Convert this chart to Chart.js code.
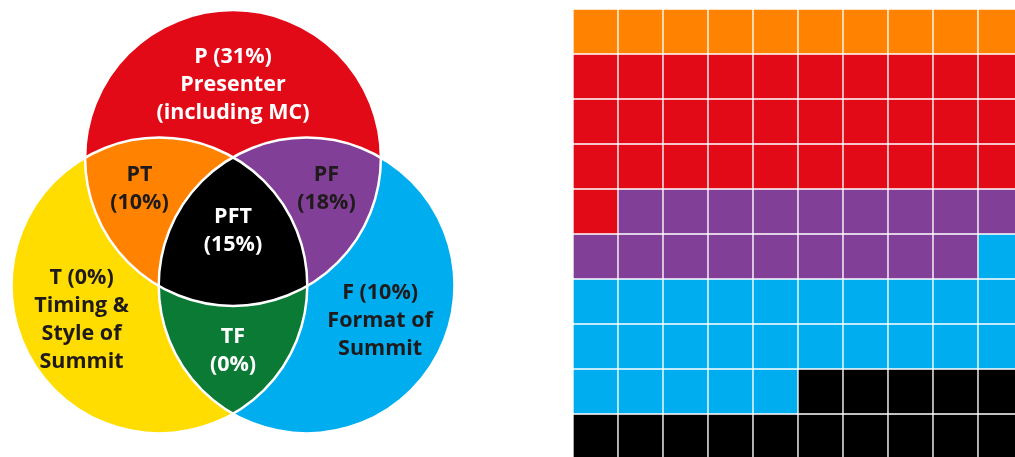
<!DOCTYPE html>
<html>
<head>
<meta charset="utf-8">
<script src="https://cdn.jsdelivr.net/npm/chart.js@4/dist/chart.umd.min.js"></script>
<style>
  html, body { margin: 0; padding: 0; background: #fff; width: 1015px; height: 457px; overflow: hidden; }
  .box { position: absolute; }
  #vennBox { left: 0; top: 0; width: 480px; height: 457px; }
  #waffleBox { left: 573px; top: 9px; width: 450px; height: 450px; }
</style>
</head>
<body>
<div id="vennBox" class="box"><canvas id="vennChart"></canvas></div>
<div id="waffleBox" class="box"><canvas id="waffleChart"></canvas></div>
<script>
/* Venn data */
const vennSets = ["P", "T", "F"];
const vennSetNames = [["Presenter", "(including MC)"], ["Timing &", "Style of", "Summit"], ["Format of", "Summit"]];
const vennSetValues = [31, 0, 10];
const vennPairs = ["PT", "PF", "TF"];
const vennPairValues = [10, 18, 0];
const vennCore = "PFT";
const vennCoreValue = 15;

/* Waffle data (one cell = 1%) */
const waffleGroups = ["PT", "P", "PF", "F", "PFT"];
const waffleCounts = [10, 31, 18, 26, 15];
const waffleColumns = ["1", "2", "3", "4", "5", "6", "7", "8", "9", "10"];

const colors = {
  P: "#E30A18", T: "#FFDD00", F: "#00ADEE",
  PT: "#FF8300", PF: "#823F98", TF: "#0B7A34", PFT: "#000000"
};
const darkText = "#1f1a1b";

/* Venn layout: unit circle arrangement, 85px per unit */
const unit = 85;
const radius = 1.74;
const setAngles = [90, 210, 330];
const labelAngles = [90, 207, 332];
const labelDist = [1.86, 2.0, 1.96];
const pairAngles = [150, 30, 270];
const pairDist = 1.27;
const lineH = 28;
const font = '700 21.5px "Open Sans"';

const rad = (a) => a * Math.PI / 180;
const centers = setAngles.map(a => ({ x: Math.cos(rad(a)), y: Math.sin(rad(a)) }));

const vennPlugin = {
  id: "venn",
  afterDatasetsDraw(chart) {
    const { ctx, scales: { x, y } } = chart;
    const pts = chart.getDatasetMeta(0).data;
    const r = x.getPixelForValue(radius) - x.getPixelForValue(0);
    const circle = (i) => { ctx.beginPath(); ctx.arc(pts[i].x, pts[i].y, r, 0, Math.PI * 2); ctx.closePath(); };
    const idx = (s) => vennSets.indexOf(s);

    ctx.save();
    // single sets
    [1, 2, 0].forEach(i => { circle(i); ctx.fillStyle = colors[vennSets[i]]; ctx.fill(); });
    // pairs
    vennPairs.forEach(p => {
      ctx.save();
      circle(idx(p[0])); ctx.clip();
      circle(idx(p[1])); ctx.fillStyle = colors[p]; ctx.fill();
      ctx.restore();
    });
    // core
    ctx.save();
    circle(0); ctx.clip(); circle(1); ctx.clip();
    circle(2); ctx.fillStyle = colors[vennCore]; ctx.fill();
    ctx.restore();
    // white outlines
    ctx.strokeStyle = "#fff";
    ctx.lineWidth = 2.5;
    [0, 1, 2].forEach(i => { circle(i); ctx.stroke(); });

    // labels
    ctx.font = font;
    ctx.textAlign = "center";
    ctx.textBaseline = "middle";
    const block = (lines, ux, uy, color) => {
      const cx = x.getPixelForValue(ux), cy = y.getPixelForValue(uy);
      const top = cy - (lines.length - 1) * lineH / 2;
      ctx.fillStyle = color;
      lines.forEach((t, k) => ctx.fillText(t, cx, top + k * lineH));
    };
    const setText = ["#fff", darkText, darkText];
    vennSets.forEach((s, i) => {
      const a = rad(labelAngles[i]);
      block([s + " (" + vennSetValues[i] + "%)"].concat(vennSetNames[i]),
        Math.cos(a) * labelDist[i], Math.sin(a) * labelDist[i], setText[i]);
    });
    const pairText = [darkText, darkText, "#fff"];
    vennPairs.forEach((p, i) => {
      const a = rad(pairAngles[i]);
      block([p, "(" + vennPairValues[i] + "%)"], Math.cos(a) * pairDist, Math.sin(a) * pairDist, pairText[i]);
    });
    block([vennCore, "(" + vennCoreValue + "%)"], 0, 0.14, "#fff");
    ctx.restore();
  }
};

new Chart(document.getElementById("vennChart"), {
  type: "scatter",
  data: { datasets: [{ data: centers, pointRadius: 0 }] },
  options: {
    responsive: true,
    maintainAspectRatio: false,
    animation: false,
    events: [],
    layout: { padding: 0 },
    plugins: { legend: { display: false }, tooltip: { enabled: false } },
    scales: {
      x: { display: false, min: -233 / unit, max: (480 - 233) / unit },
      y: { display: false, min: -(457 - 243) / unit, max: 243 / unit }
    }
  },
  plugins: [vennPlugin]
});

/* Waffle: fill cells row by row from the counts */
const cellColors = [];
waffleGroups.forEach((g, i) => { for (let k = 0; k < waffleCounts[i]; k++) cellColors.push(colors[g]); });
const nCols = waffleColumns.length;
const nRows = Math.ceil(cellColors.length / nCols);

const rows = [];
for (let r = 0; r < nRows; r++) {
  rows.push({
    data: waffleColumns.map(() => [r, r + 1]),
    backgroundColor: cellColors.slice(r * nCols, r * nCols + nCols),
    borderColor: "#ffffff",
    borderWidth: 1,
    borderSkipped: false,
    grouped: false,
    barPercentage: 1,
    categoryPercentage: 1
  });
}

new Chart(document.getElementById("waffleChart"), {
  type: "bar",
  data: { labels: waffleColumns, datasets: rows },
  options: {
    responsive: true,
    maintainAspectRatio: false,
    animation: false,
    events: [],
    layout: { padding: 0 },
    plugins: { legend: { display: false }, tooltip: { enabled: false } },
    scales: {
      x: { display: false },
      y: { display: false, min: 0, max: nRows, reverse: true }
    }
  }
});
</script>
</body>
</html>
